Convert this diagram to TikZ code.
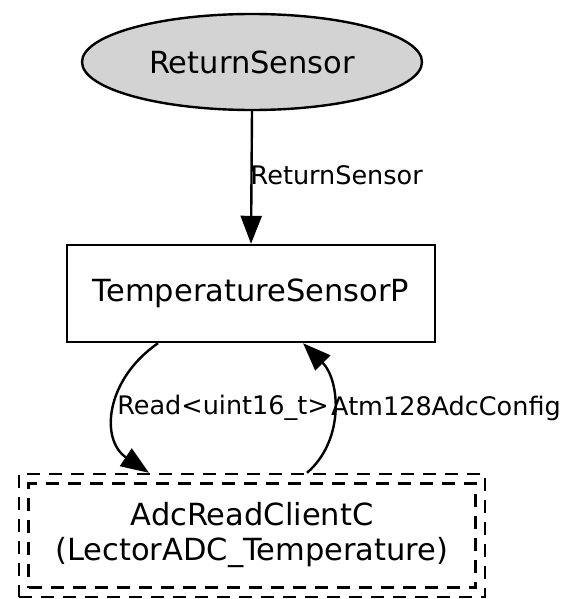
\documentclass[tikz,border=0pt]{standalone}
\usepackage{fontspec}
\setmainfont{DejaVu Sans}
\usetikzlibrary{arrows.meta,shapes.geometric}
\begin{document}
\begin{tikzpicture}[x=1pt,y=-1pt,
  nodefont/.style={font=\fontsize{30.5}{35}\selectfont},
  edgefont/.style={font=\fontsize{25.5}{30}\selectfont},
  conn/.style={line width=2.4pt,-{Triangle[length=28pt,width=21pt]}},
  dashbox/.style={draw,line width=2.4pt,dash pattern=on 13pt off 9pt},
]
\useasboundingbox (0,0) rectangle (562,599);
\node[ellipse,draw,line width=2.4pt,fill={rgb,255:red,211;green,211;blue,211},
  minimum width=340pt,minimum height=96pt,inner sep=0pt,nodefont] (rs) at (252,62) {ReturnSensor};
\node[rectangle,draw,line width=2.4pt,minimum width=368pt,minimum height=97pt,
  inner sep=0pt,nodefont] (tsp) at (251,293.5) {TemperatureSensorP};
\node[dashbox,minimum width=466pt,minimum height=123pt,inner sep=0pt] (adc) at (252,535.5) {};
\node[dashbox,minimum width=447pt,minimum height=104pt,inner sep=0pt,
  align=center,nodefont] (adcin) at (252,535.5) {AdcReadClientC\\(LectorADC\_Temperature)};
\draw[conn] (rs.south) -- (tsp.north) node[pos=0.48,right=-2pt,edgefont,inner sep=0pt] {ReturnSensor};
\draw[conn] ([xshift=-93pt]tsp.south) .. controls (105,380) and (100,440) .. ([xshift=-103pt]adc.north);
\draw[conn] ([xshift=55pt]adc.north) .. controls (345,440) and (340,380) .. ([xshift=52pt]tsp.south);
\node[edgefont,inner sep=0pt] (l1) at (223,408) {Read<uint16\_t>};
\node[edgefont,inner sep=0pt] (l2) at (446,408) {Atm128AdcConfig};
\end{tikzpicture}
\end{document}
